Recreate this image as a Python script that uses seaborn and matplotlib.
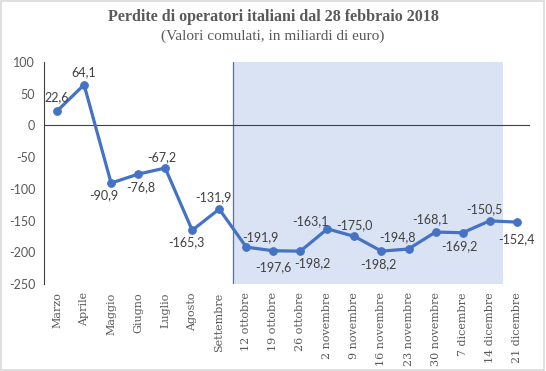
import matplotlib
matplotlib.use("Agg")
import matplotlib.pyplot as plt
import seaborn as sns
import pandas as pd
from matplotlib.patches import Rectangle

categories = ["Marzo", "Aprile", "Maggio", "Giugno", "Luglio", "Agosto", "Settembre",
              "12 ottobre", "19 ottobre", "26 ottobre", "2 novembre", "9 novembre",
              "16 novembre", "23 novembre", "30 novembre", "7 dicembre", "14 dicembre",
              "21 dicembre"]
values = [22.6, 64.1, -90.9, -76.8, -67.2, -165.3, -131.9,
          -191.9, -197.6, -198.2, -163.1, -175.0, -198.2, -194.8, -168.1, -169.2,
          -150.5, -152.4]
# label placement offsets (pixels, from point to label centre)
label_dx = [0, 0, -7, 3, -3, -6, -6, 14, 0, 12, -17, 0, -3, -11, -5, -3, -5, 0]
label_dy = [14, 13, -12, -13, 11, -12, 12, 10, -16, -12, 8, 11, -13, 12, 13, -13, 12, -17]
yticks = [100, 50, 0, -50, -100, -150, -200, -250]

sns.set_theme(style="white")
df = pd.DataFrame({"cat": categories, "val": values, "x": range(len(categories))})

fig = plt.figure(figsize=(5.46, 3.71), dpi=100)
ax = fig.add_axes([0.0797, 0.2345, 0.8913, 0.5985])

blue = "#4472C4"
ax.add_patch(Rectangle((6.5, -250), 10.0, 350, facecolor="#DAE3F3", edgecolor="none", zorder=0))
ax.axvline(6.5, color=blue, lw=0.9, zorder=1)
ax.axhline(0, color="#404040", lw=0.8, zorder=1)

sns.lineplot(data=df, x="x", y="val", ax=ax, color=blue, lw=2.3, marker="o",
             markersize=5.5, markeredgecolor=blue, zorder=3)

for i, (v, dx, dy) in enumerate(zip(values, label_dx, label_dy)):
    txt = f"{v:.1f}".replace(".", ",")
    ax.annotate(txt, (i, v), xytext=(dx, dy), textcoords="offset pixels",
                ha="center", va="center",
                fontsize=9, color="#404040", family="Lato")

ax.set_xlim(-0.5, len(categories) - 0.5)
ax.set_ylim(-250, 100)
ax.set_yticks(yticks)
ax.set_yticklabels([str(t) for t in yticks], fontsize=9, color="#595959", family="Lato")
ax.set_xticks(range(len(categories)))
ax.set_xticklabels(categories, rotation=90, fontsize=8, color="#595959", family="DejaVu Serif")
ax.tick_params(axis="both", length=0, pad=6)
ax.set_xlabel("")
ax.set_ylabel("")
for s in ["top", "right", "bottom"]:
    ax.spines[s].set_visible(False)
ax.spines["left"].set_color("#404040")
ax.spines["left"].set_linewidth(0.8)
ax.grid(False)
ax.set_facecolor("white")

fig.text(0.5, 0.955, "Perdite di operatori italiani dal 28 febbraio 2018", ha="center", va="center",
         fontsize=11.5, fontweight="bold", color="#595959", family="Liberation Serif")
fig.text(0.5, 0.902, "(Valori comulati, in miliardi di euro)", ha="center", va="center",
         fontsize=11, color="#595959", family="Liberation Serif")

fig.add_artist(Rectangle((0.002, 0.003), 0.995, 0.994, transform=fig.transFigure,
                         fill=False, edgecolor="#D9D9D9", lw=1.2))

fig.savefig("out.png", dpi=100)
